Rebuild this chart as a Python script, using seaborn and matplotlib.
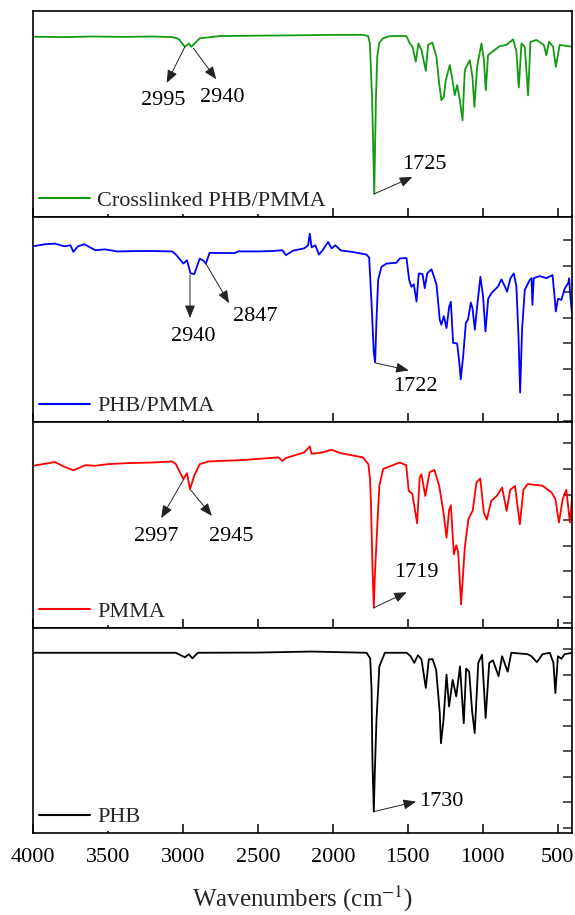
import matplotlib
matplotlib.use("Agg")
import matplotlib.pyplot as plt
from matplotlib.ticker import MultipleLocator, NullLocator
import seaborn as sns
import pandas as pd

# ---------------- data ----------------
labels = ["Crosslinked PHB/PMMA", "PHB/PMMA", "PMMA", "PHB"]

wn_clk = [4000, 3800, 3600, 3400, 3200, 3073, 3030, 2987, 2960, 2944, 2915, 2887, 2753, 2500, 2200,
          2000, 1800, 1765, 1753, 1738, 1724, 1713, 1704, 1691, 1665, 1620, 1509, 1487, 1469, 1447,
          1429, 1409, 1380, 1365, 1336, 1309, 1291, 1276, 1260, 1247, 1220, 1202, 1187, 1171, 1153,
          1135, 1120, 1105, 1087, 1069, 1056, 1038, 1009, 993, 980, 965, 931, 887, 842, 798,
          776, 760, 742, 720, 698, 682, 642, 593, 576, 558, 531, 513, 487, 405]
t_clk = [87.5, 87.3, 87.6, 87.4, 87.6, 87.3, 86.5, 82.6, 84.2, 82.6, 84.8, 86.7, 87.8, 88.0, 88.2,
         88.4, 88.4, 87.8, 84.2, 56.6, 11.0, 56.6, 77.7, 84.5, 86.7, 87.8, 87.8, 84.2, 82.6, 75.3,
         84.2, 81.0, 70.9, 83.5, 84.6, 77.7, 64.7, 56.6, 58.2, 66.3, 73.7, 66.3, 59.0, 64.0, 56.6,
         46.8, 71.2, 73.5, 76.1, 68.0, 53.3, 72.8, 84.2, 76.5, 61.5, 78.5, 80.5, 82.9, 83.5, 86.2,
         80.5, 62.8, 84.2, 82.6, 59.0, 85.0, 85.9, 83.5, 78.5, 85.0, 82.6, 72.8, 83.5, 82.6]

wn_blend = [4000, 3920, 3853, 3790, 3750, 3731, 3700, 3658, 3620, 3585, 3520, 3438, 3300, 3200, 3071,
            3047, 2997, 2973, 2949, 2924, 2888, 2863, 2847, 2822, 2655, 2632, 2500, 2400, 2337, 2313,
            2264, 2191, 2165, 2154, 2142, 2117, 2093, 2069, 2032, 2008, 1983, 1947, 1873, 1776, 1758,
            1742, 1727, 1718, 1709, 1698, 1676, 1642, 1576, 1553, 1509, 1491, 1476, 1460, 1442, 1427,
            1402, 1387, 1371, 1342, 1309, 1287, 1276, 1260, 1242, 1224, 1213, 1198, 1171, 1158, 1147,
            1131, 1113, 1098, 1080, 1069, 1053, 1038, 1016, 998, 982, 964, 942, 920, 898, 876,
            853, 838, 815, 793, 776, 762, 751, 738, 720, 687, 675, 669, 660, 620, 576,
            535, 520, 513, 498, 476, 453, 431, 424, 416, 405]
t_blend = [85.5, 86.5, 86.8, 85.5, 86.0, 82.8, 85.5, 86.5, 85.0, 83.6, 84.0, 83.0, 83.2, 83.2, 83.0,
           81.5, 77.1, 78.7, 72.3, 72.0, 79.5, 78.5, 77.1, 82.3, 82.2, 83.0, 83.0, 83.2, 83.6, 81.2,
           83.4, 84.5, 86.0, 91.6, 85.0, 86.0, 81.5, 83.5, 87.6, 84.5, 86.0, 83.5, 82.8, 81.5, 80.0,
           57.8, 33.7, 29.1, 49.8, 69.1, 75.5, 77.1, 77.5, 79.6, 79.8, 69.1, 65.8, 67.0, 58.6, 72.3,
           72.0, 65.1, 72.3, 74.3, 67.0, 49.8, 47.3, 51.5, 45.7, 56.2, 58.5, 38.5, 38.2, 30.0, 20.8,
           32.0, 48.2, 50.0, 58.1, 55.5, 44.9, 56.0, 70.7, 61.0, 44.1, 60.0, 62.7, 64.3, 66.0, 69.4,
           66.0, 63.4, 70.0, 72.3, 66.0, 42.0, 14.3, 45.0, 64.3, 69.1, 70.0, 57.0, 70.0, 71.0, 70.0,
           71.5, 60.0, 53.8, 60.0, 59.4, 65.0, 67.5, 69.9, 61.0, 53.0]

wn_pmma = [4000, 3853, 3800, 3731, 3650, 3587, 3500, 3365, 3200, 3071, 3047, 2997, 2973, 2953, 2924,
           2888, 2827, 2600, 2362, 2337, 2313, 2191, 2154, 2142, 2069, 2008, 1947, 1800, 1763, 1752,
           1746, 1736, 1727, 1720, 1707, 1690, 1665, 1555, 1511, 1494, 1470, 1438, 1421, 1409, 1384,
           1355, 1323, 1291, 1262, 1242, 1225, 1213, 1193, 1177, 1164, 1155, 1145, 1135, 1120, 1096,
           1067, 1042, 1017, 993, 973, 944, 907, 871, 841, 817, 785, 753, 729, 700, 602,
           541, 516, 492, 467, 443, 419, 402]
t_pmma = [78.7, 80.5, 78.5, 76.5, 79.0, 78.7, 79.5, 80.0, 80.3, 80.8, 79.5, 72.2, 75.1, 67.3, 74.0,
          79.5, 80.8, 81.5, 82.8, 81.0, 82.5, 85.2, 88.1, 84.5, 85.2, 86.5, 84.8, 82.8, 79.5, 72.0,
          60.8, 30.0, 9.6, 25.0, 44.6, 68.9, 77.1, 80.3, 79.0, 66.5, 65.0, 50.7, 73.0, 74.6, 64.0,
          75.5, 76.7, 69.0, 55.9, 43.7, 57.0, 59.5, 35.6, 40.0, 36.5, 25.0, 11.2, 22.0, 39.0, 52.7,
          57.0, 70.6, 72.5, 55.9, 52.5, 61.6, 64.0, 68.1, 56.7, 67.0, 68.9, 50.2, 67.0, 69.8, 69.0,
          65.7, 62.5, 51.1, 62.5, 67.0, 51.1, 65.0]

wn_phb = [4000, 3500, 3047, 2987, 2961, 2937, 2900, 2500, 2142, 1775, 1751, 1742, 1736, 1727, 1720,
          1709, 1690, 1653, 1507, 1482, 1457, 1433, 1409, 1380, 1360, 1335, 1311, 1287, 1279, 1262,
          1242, 1225, 1201, 1177, 1152, 1127, 1111, 1091, 1071, 1054, 1030, 1005, 981, 957, 932,
          895, 871, 834, 810, 700, 675, 639, 602, 553, 529, 516, 499, 475, 455, 402]
t_phb = [87.7, 87.7, 87.7, 85.5, 87.0, 85.0, 87.7, 87.8, 88.3, 87.7, 85.0, 70.0, 35.0, 10.4, 30.0,
         55.1, 81.1, 87.7, 87.7, 86.0, 82.8, 86.5, 84.5, 70.6, 84.5, 84.6, 79.4, 58.4, 43.7, 55.0,
         77.1, 61.6, 74.5, 66.5, 81.1, 53.4, 80.0, 78.5, 59.2, 48.6, 82.8, 86.8, 56.0, 82.8, 84.0,
         76.3, 86.0, 78.5, 87.7, 87.0, 86.0, 83.1, 87.0, 87.7, 82.8, 68.1, 86.0, 84.8, 87.0, 87.7]

peak_labels = [["2995", "2940", "1725"], ["2940", "2847", "1722"], ["2997", "2945", "1719"], ["1730"]]

xticks_vals = [4000, 3500, 3000, 2500, 2000, 1500, 1000, 500]

# ---------------- layout / style ----------------
# annotation geometry: (tail, head, text position, ha)
ann_geom = [
    [((2987, 82.6), (3108, 65.0), (3133, 56.6), "center"),
     ((2929, 81.8), (2778, 66.8), (2741, 58.0), "center"),
     ((1724, 11.0), (1470, 19.2), (1387, 25.4), "center")],
    [((2953, 71.5), (2953, 50.6), (2931, 41.7), "center"),
     ((2847, 77.1), (2692, 57.8), (2516, 51.4), "center"),
     ((1718, 28.8), (1494, 25.1), (1450, 17.5), "center")],
    [((2997, 71.9), (3145, 53.2), (3181, 44.2), "center"),
     ((2949, 67.0), (2807, 54.3), (2680, 44.2), "center"),
     ((1727, 9.6), (1507, 17.2), (1445, 27.0), "center")],
    [((1727, 10.4), (1445, 15.3), (1427, 15.3), "left")],
]
colors = ["#139a13", "#0000ff", "#ff0000", "#000000"]
ytick_step = [None, (12.6, 0.4), (12.45, 2.4), (12.45, 2.4)]

sns.set_style("ticks")
plt.rcParams["font.family"] = ["Liberation Serif", "DejaVu Serif"]
plt.rcParams["mathtext.fontset"] = "stix"

fig = plt.figure(figsize=(5.75, 9.15), dpi=100)
gs = fig.add_gridspec(4, 1, left=33 / 575, right=572 / 575, top=1 - 11 / 915,
                      bottom=1 - 833 / 915, hspace=0)
axes = [fig.add_subplot(gs[i]) for i in range(4)]

series = [(wn_clk, t_clk), (wn_blend, t_blend), (wn_pmma, t_pmma), (wn_phb, t_phb)]

for i, ax in enumerate(axes):
    wn, t = series[i]
    df = pd.DataFrame({"wn": wn, "T": t})
    sns.lineplot(data=df, x="wn", y="T", ax=ax, color=colors[i], lw=1.3,
                 estimator=None, sort=False, label=labels[i])
    ax.set_xlim(4000, 405)
    ax.set_ylim(0, 100)
    ax.set_xlabel("")
    ax.set_ylabel("")
    ax.set_xticks(xticks_vals)
    for s in ax.spines.values():
        s.set_linewidth(1.2)
        s.set_color("black")
        s.set_zorder(6)
    ax.tick_params(axis="x", direction="in", length=6.5, width=1.1, top=False, bottom=True,
                   labelsize=16, pad=11, colors="black")
    ax.tick_params(axis="y", direction="in", length=6.5, width=1.1, left=False, right=True,
                   labelleft=False, labelright=False)
    if ytick_step[i] is None:
        ax.yaxis.set_major_locator(NullLocator())
    else:
        step, off = ytick_step[i]
        ax.yaxis.set_major_locator(MultipleLocator(step, offset=off))
    if i < 3:
        ax.tick_params(axis="x", labelbottom=False)

    leg = ax.legend(loc="lower left", fontsize=16, handlelength=2.3, handletextpad=0.35,
                    borderaxespad=0.1, borderpad=0.15, frameon=True, fancybox=False,
                    framealpha=1.0, facecolor="white", edgecolor="none")
    for line in leg.get_lines():
        line.set_linewidth(1.5)

    for lab, (tail, head, tpos, ha) in zip(peak_labels[i], ann_geom[i]):
        ax.annotate("", xy=head, xytext=tail,
                    arrowprops=dict(arrowstyle="-|>,head_length=0.55,head_width=0.22",
                                    color="#222222", lw=0.7, shrinkA=0, shrinkB=0,
                                    mutation_scale=14))
        ax.text(tpos[0], tpos[1], lab, ha=ha, va="center", fontsize=16, color="black")

axes[-1].set_xlabel(r"Wavenumbers (cm$^{-1}$)", fontsize=18, labelpad=12)

fig.savefig("out.png", dpi=100)
